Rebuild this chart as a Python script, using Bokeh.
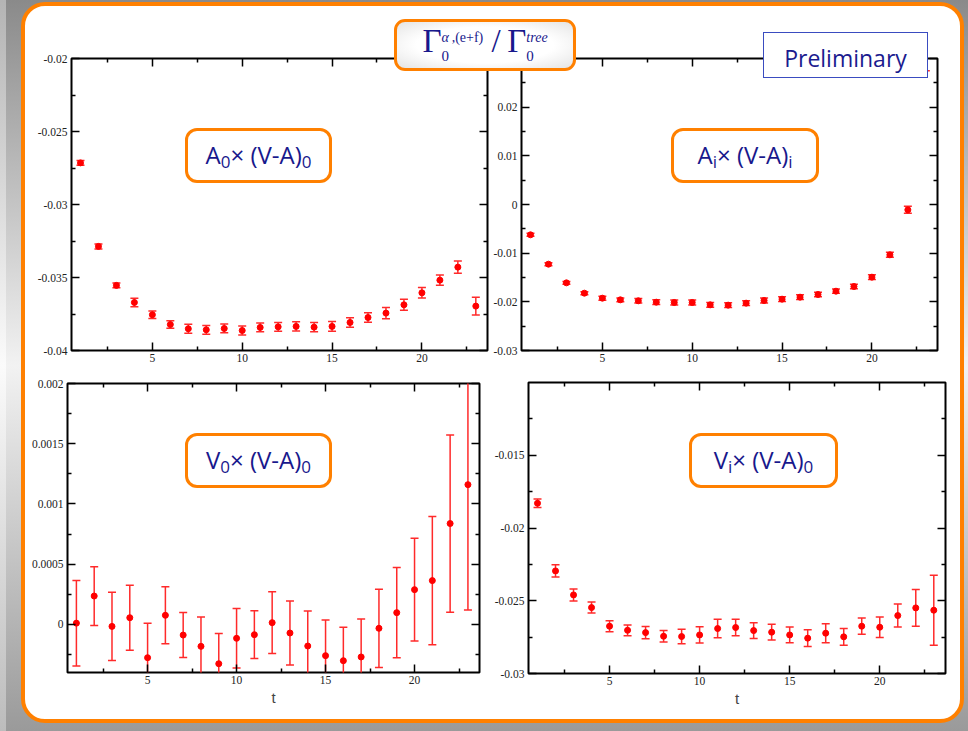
from bokeh.plotting import figure
from bokeh.models import Range1d, LinearAxis, FixedTicker, CustomJSTickFormatter, Div, Column
from bokeh.embed import file_html
from bokeh.resources import INLINE

# ---------------- data ----------------
t = list(range(1, 24))

a0_val = [-0.02715, -0.03287, -0.03554, -0.03671, -0.03755, -0.03822, -0.03851, -0.03858,
          -0.03849, -0.03863, -0.03842, -0.03838, -0.03835, -0.03840, -0.03835, -0.03808,
          -0.03774, -0.03744, -0.03687, -0.03605, -0.03518, -0.03429, -0.03696]
a0_err = [0.00017, 0.00017, 0.00017, 0.00029, 0.00026, 0.00026, 0.00030, 0.00030,
          0.00030, 0.00030, 0.00030, 0.00030, 0.00032, 0.00032, 0.00033, 0.00033,
          0.00033, 0.00038, 0.00038, 0.00036, 0.00035, 0.00042, 0.00060]

ai_val = [-0.00623, -0.01226, -0.01610, -0.01822, -0.01925, -0.01959, -0.01979, -0.02007,
          -0.02014, -0.02014, -0.02062, -0.02068, -0.02027, -0.01973, -0.01945, -0.01904,
          -0.01849, -0.01781, -0.01685, -0.01493, -0.01034, -0.00110, 0.03350]
ai_err = [0.00030, 0.00030, 0.00030, 0.00030, 0.00040, 0.00040, 0.00045, 0.00050,
          0.00050, 0.00050, 0.00050, 0.00050, 0.00050, 0.00050, 0.00050, 0.00050,
          0.00045, 0.00045, 0.00045, 0.00050, 0.00051, 0.00072, 0.00600]

v0_val = [0.00001, 0.000235, -0.000017, 0.000055, -0.000277, 0.000075, -0.000089, -0.000183,
          -0.000327, -0.000116, -0.000086, 0.000014, -0.000072, -0.000180, -0.000260, -0.000302,
          -0.000271, -0.000033, 0.000097, 0.000288, 0.000363, 0.000837, 0.001160]
v0_err = [0.000355, 0.000244, 0.000284, 0.000270, 0.000285, 0.000237, 0.000187, 0.000244,
          0.000250, 0.000247, 0.000198, 0.000256, 0.000265, 0.000291, 0.000296, 0.000277,
          0.000316, 0.000325, 0.000374, 0.000427, 0.000532, 0.000736, 0.001040]

vi_val = [-0.01830, -0.02295, -0.02460, -0.02547, -0.02675, -0.02703, -0.02719, -0.02744,
          -0.02746, -0.02735, -0.02691, -0.02684, -0.02705, -0.02716, -0.02735, -0.02757,
          -0.02723, -0.02748, -0.02675, -0.02682, -0.02602, -0.02549, -0.02565]
vi_err = [0.00029, 0.00042, 0.00041, 0.00038, 0.00038, 0.00037, 0.00042, 0.00040,
          0.00050, 0.00056, 0.00064, 0.00056, 0.00054, 0.00054, 0.00054, 0.00058,
          0.00065, 0.00057, 0.00056, 0.00070, 0.00079, 0.00127, 0.00240]

x_major = [5, 10, 15, 20]
x_minor = [2.5, 7.5, 12.5, 17.5, 22.5]
a0_yticks = [-0.04, -0.035, -0.03, -0.025, -0.02]
a0_yminor = [-0.0375, -0.0325, -0.0275, -0.0225]
ai_yticks = [-0.03, -0.02, -0.01, 0.0, 0.01, 0.02, 0.03]
ai_yminor = [-0.025, -0.015, -0.005, 0.005, 0.015, 0.025]
v0_yticks = [0.0, 0.0005, 0.001, 0.0015, 0.002]
v0_yminor = [-0.00025, 0.00025, 0.00075, 0.00125, 0.00175]
vi_yticks = [-0.03, -0.025, -0.02, -0.015]
vi_yminor = [-0.0275, -0.0225, -0.0175, -0.0125]

RED = "#ff0000"
BAR = "#ff2a2a"
NAVY = "#18188c"
ORANGE = "#ff8000"

fmt_code = "return String(Number(tick.toPrecision(6)));"


def panel(vals, errs, yr, yticks, yminor, frame, xlabel=None):
    left, top, fw, fh = frame
    bl, bt, br, bb = 52, 20, 12, (44 if xlabel else 24)
    p = figure(frame_width=fw, frame_height=fh,
               x_range=Range1d(0.5, 23.65), y_range=Range1d(*yr),
               output_backend="svg", toolbar_location=None,
               min_border_left=bl, min_border_right=br,
               min_border_top=bt, min_border_bottom=bb,
               background_fill_color="white", border_fill_alpha=0,
               outline_line_color="black", outline_line_width=2)
    p.grid.visible = False
    xt = FixedTicker(ticks=x_major, minor_ticks=x_minor)
    yt = FixedTicker(ticks=yticks, minor_ticks=yminor)
    p.below[0].ticker = xt
    p.left[0].ticker = yt
    p.add_layout(LinearAxis(ticker=xt), "above")
    p.add_layout(LinearAxis(ticker=yt), "right")
    for ax in p.axis:
        ax.axis_line_color = None
        ax.major_tick_in = 8
        ax.major_tick_out = 0
        ax.minor_tick_in = 4
        ax.minor_tick_out = 0
        ax.major_tick_line_width = 1.5
        ax.minor_tick_line_width = 1.5
        ax.major_tick_line_color = "black"
        ax.minor_tick_line_color = "black"
        ax.major_label_text_font = "Liberation Serif"
        ax.major_label_text_font_size = "11.5px"
        ax.major_label_text_color = "#222222"
        ax.formatter = CustomJSTickFormatter(code=fmt_code)
    for ax in (p.above[0], p.right[0]):
        ax.major_label_text_color = None
        ax.major_label_text_font_size = "2px"
        ax.major_label_standoff = 0
    p.below[0].major_label_standoff = 3
    p.left[0].major_label_standoff = 4
    if xlabel:
        ax = p.below[0]
        ax.axis_label = xlabel
        ax.axis_label_text_font = "Liberation Sans"
        ax.axis_label_text_font_size = "15px"
        ax.axis_label_text_font_style = "normal"
        ax.axis_label_standoff = 2
    lo = [v - e for v, e in zip(vals, errs)]
    hi = [v + e for v, e in zip(vals, errs)]
    p.segment(x0=t, y0=lo, x1=t, y1=hi, line_color=BAR, line_width=1.5)
    p.scatter(t, lo, marker="dash", size=8, line_color=BAR, line_width=1.5)
    p.scatter(t, hi, marker="dash", size=8, line_color=BAR, line_width=1.5)
    p.scatter(t, vals, marker="circle", size=6, fill_color=RED, line_color=RED)
    p.styles = {"position": "absolute", "left": f"{left - bl}px", "top": f"{top - bt}px"}
    return p


p1 = panel(a0_val, a0_err, (-0.04, -0.02), a0_yticks, a0_yminor, (71, 58, 416, 292))
p2 = panel(ai_val, ai_err, (-0.03, 0.03), ai_yticks, ai_yminor, (521, 58, 416, 292))
p3 = panel(v0_val, v0_err, (-0.0004, 0.002), v0_yticks, v0_yminor, (67, 383, 412, 289), "t")
p4 = panel(vi_val, vi_err, (-0.03, -0.01), vi_yticks, vi_yminor, (528, 382, 417, 291), "t")


def box(html, x, y, w, h, extra):
    st = {"position": "absolute", "left": f"{x}px", "top": f"{y}px",
          "width": f"{w}px", "height": f"{h}px", "box-sizing": "border-box",
          "display": "flex", "align-items": "center", "justify-content": "center",
          "background": "white", "color": NAVY, "white-space": "nowrap", "margin": "0px"}
    st.update(extra)
    return Div(text=html, width=w, height=h, margin=0, styles=st)


SUB = '<span style="position:relative;top:4px;font-size:17px">{}</span>'
lab_style = {"border": f"3.5px solid {ORANGE}", "border-radius": "12px",
             "font-family": "Open Sans", "font-size": "24px"}

labels = [
    box("A" + SUB.format("0") + "× (V-A)" + SUB.format("0"), 185, 128, 147, 55, lab_style),
    box("A" + SUB.format("i") + "× (V-A)" + SUB.format("i"), 671, 128, 148, 55, lab_style),
    box("V" + SUB.format("0") + "× (V-A)" + SUB.format("0"), 185, 433, 147, 55, lab_style),
    box("V" + SUB.format("i") + "× (V-A)" + SUB.format("0"), 689, 433, 149, 55, lab_style),
]

stack = ('<span style="display:inline-block;vertical-align:-9px;line-height:18px;'
         'font-size:14px;text-align:left">{}<br>{}</span>')
zero = '<span style="font-size:15px">0</span>'
title_html = ('<span style="font-family:\'Liberation Serif\';font-size:33px;line-height:1">'
              'Γ' + stack.format('<i>α</i>&thinsp;,(e+f)', zero) +
              '&nbsp;/&thinsp;Γ' + stack.format('<i>tree</i>', zero) +
              '</span>')
title = box(title_html, 394, 19, 182, 52,
            {"border": f"3.5px solid {ORANGE}", "border-radius": "11px",
             "background": "radial-gradient(ellipse at center, #ffffff 55%, #e4e4e4 100%)"})

prelim = box("Preliminary", 763, 32, 165, 46,
             {"border": "1.5px solid #3a4cc0", "font-family": "Open Sans",
              "font-size": "23px", "padding-top": "6px", "color": "#1b1b8f"})

strip = Div(text="", width=6, height=731, margin=0,
            styles={"position": "absolute", "left": "0px", "top": "0px", "width": "6px",
                    "height": "731px", "margin": "0px",
                    "background": "linear-gradient(to bottom, #b4b4b4 0%, #fbfbfb 50%, #bcbcbc 100%)"})
slide = Div(text="", width=943, height=721, margin=0,
            styles={"position": "absolute", "left": "21px", "top": "2px", "width": "943px",
                    "height": "721px", "box-sizing": "border-box", "margin": "0px",
                    "border": f"4.5px solid {ORANGE}", "border-radius": "24px",
                    "background": "white"})

root = Column(children=[strip, slide, p1, p2, p3, p4] + labels + [title, prelim],
              width=968, height=731, sizing_mode="fixed",
              styles={"position": "absolute", "left": "0px", "top": "0px",
                      "background": "linear-gradient(to bottom, #8a8a8a 0%, #f2f2f2 50%, #9a9a9a 100%)"})

open("out.html", "w").write(file_html(root, INLINE))
